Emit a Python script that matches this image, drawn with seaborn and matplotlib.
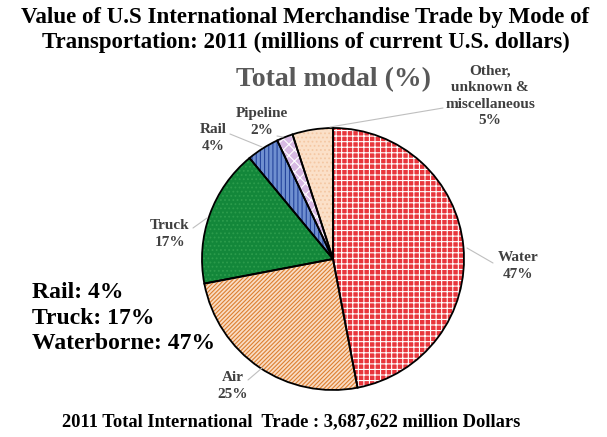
import matplotlib.pyplot as plt
import seaborn as sns

# data (share of total trade value, %)
modes = ['Water', 'Air', 'Truck', 'Rail', 'Pipeline', 'Other, unknown & miscellaneous']
shares = [47, 25, 17, 4, 2, 5]
label_text = ['Water\n47%', 'Air\n25%', 'Truck\n17%', 'Rail\n4%', 'Pipeline\n2%',
              'Other,\nunknown &\nmiscellaneous\n5%']

# styles
face_colors = ['#e8363c', '#f9dcc4', '#13873a', '#6f8fd0', '#d7b9e3', '#fbe0c8']
hatch_colors = ['#ffffff', '#dc7f30', '#2c9c4c', '#24449c', '#ffffff', '#f4c8a4']
hatches = ['+++', '////////', '....', '||||', 'xxx', '....']
# label anchor (pixel coords, y from top) and leader line start/end
label_pos = [(518, 266), (233, 386), (170, 234), (213, 138), (262, 122), (490, 96)]
leader = [((467, 248), (493, 263)), ((262, 368), (248, 380)), ((207, 218), (193, 228)),
          ((262, 147), (230, 134)), ((283, 137), (277, 136)), ((330, 127), (443, 108))]

W, H = 607, 437
sns.set_style("white")
plt.rcParams['font.family'] = ['Liberation Serif', 'DejaVu Serif']
plt.rcParams['hatch.linewidth'] = 0.8

fig = plt.figure(figsize=(W / 100, H / 100), dpi=100)
ax = fig.add_axes([0, 0, 1, 1])

cx, cy, r = 333, H - 259, 131

# base colour
ax.pie(shares, colors=face_colors, startangle=90, counterclock=False,
       center=(cx, cy), radius=r, frame=True,
       wedgeprops=dict(linewidth=0))
# pattern overlay
wedges, _ = ax.pie(shares, colors=['none'] * len(shares), startangle=90, counterclock=False,
                   center=(cx, cy), radius=r, frame=True,
                   wedgeprops=dict(linewidth=0))
for w, hc, h in zip(wedges, hatch_colors, hatches):
    w.set_hatch(h)
    w.set_edgecolor(hc)
    w.set_facecolor('none')
# outlines
ax.pie(shares, colors=['none'] * len(shares), startangle=90, counterclock=False,
       center=(cx, cy), radius=r, frame=True,
       wedgeprops=dict(linewidth=1.3, edgecolor='black', fill=False))
ax.set_xlim(0, W)
ax.set_ylim(0, H)
ax.set_aspect('equal')
ax.axis('off')

for txt, (lx, ly), (p0, p1) in zip(label_text, label_pos, leader):
    ax.plot([p0[0], p1[0]], [H - p0[1], H - p1[1]], color='#bfbfbf', lw=0.8)
    ax.text(lx, H - ly, txt, ha='center', va='center', fontsize=11,
            fontweight='bold', color='#404040', linespacing=1.35)

ax.text(W / 2 + 2, H - 30,
        'Value of U.S International Merchandise Trade by Mode of\n'
        'Transportation: 2011 (millions of current U.S. dollars)',
        ha='center', va='center', fontsize=16.5, fontweight='bold', color='black',
        linespacing=1.2)
ax.text(333, H - 80, 'Total modal (%)', ha='center', va='center', fontsize=20,
        fontweight='bold', color='#595959')
ax.text(32, H - 318, 'Rail: 4%\nTruck: 17%\nWaterborne: 47%', ha='left', va='center',
        fontsize=17, fontweight='bold', color='black', linespacing=1.3)
ax.text(291, H - 422, '2011 Total International  Trade : 3,687,622 million Dollars',
        ha='center', va='center', fontsize=13.3, fontweight='bold', color='black')

fig.savefig('out.png', dpi=100)
